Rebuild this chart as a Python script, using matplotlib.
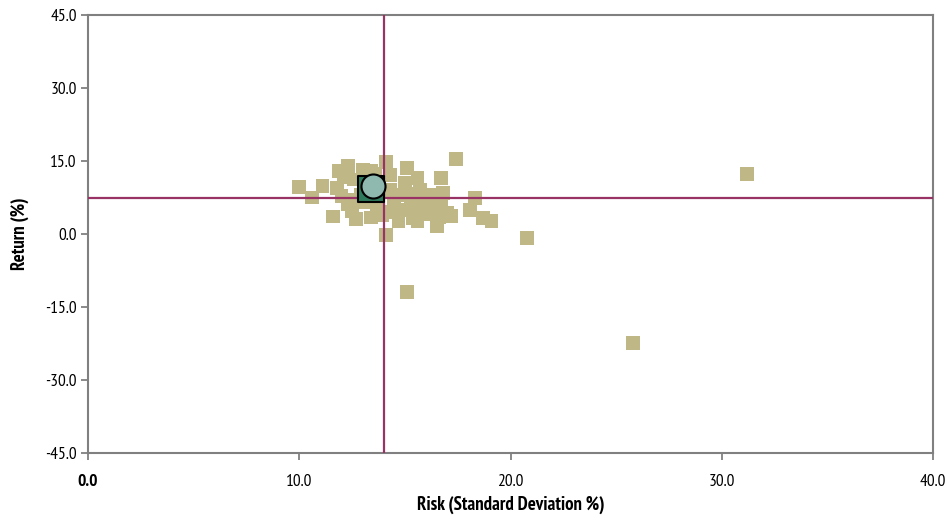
import matplotlib
matplotlib.use("Agg")
import matplotlib.pyplot as plt

# Risk / return of the peer universe (standard deviation %, return %)
peer_risk = [
    10.0, 10.6, 11.1, 11.6, 11.9, 12.3, 11.8, 12.0, 12.3, 12.5, 12.7, 12.6, 13.0, 13.4,
    13.1, 13.4, 13.7, 13.6, 12.1, 12.9, 12.6, 13.9,
    14.1, 14.3, 14.1, 14.3, 14.5, 14.4, 14.7, 15.1, 15.0, 15.2, 15.0, 15.4, 15.6, 15.7,
    15.8, 15.6, 16.0, 16.2, 16.4, 16.5, 16.7, 16.8, 16.7, 17.0, 17.2, 17.4,
    14.8, 15.3, 15.5, 15.9, 16.3, 16.6,
    18.3, 18.1, 18.7, 19.1, 20.8, 15.1, 25.8, 31.2,
]
peer_return = [
    9.7, 7.5, 9.8, 3.6, 12.9, 14.0, 9.5, 7.8, 6.2, 4.8, 3.0, 11.2, 13.2, 13.0,
    6.5, 3.4, 5.0, 12.4, 11.8, 8.0, 7.0, 3.8,
    14.8, 12.2, -0.2, 9.0, 6.8, 4.5, 2.6, 13.5, 10.5, 8.2, 5.0, 3.3, 11.5, 9.0,
    6.2, 2.7, 4.0, 8.0, 5.5, 1.6, 11.5, 8.4, 6.8, 4.3, 3.7, 15.5,
    8.0, 6.5, 4.5, 7.6, 6.3, 3.5,
    7.4, 4.9, 3.3, 2.7, -0.8, -11.9, -22.4, 12.3,
]

# Highlighted fund and benchmark
fund_risk, fund_return = 13.4, 9.3
bench_risk, bench_return = 13.5, 9.8

# Peer medians (quadrant lines)
median_risk, median_return = 14.0, 7.3

x_ticks = [0.0, 10.0, 20.0, 30.0, 40.0]
y_ticks = [-45.0, -30.0, -15.0, 0.0, 15.0, 30.0, 45.0]

plt.rcParams["font.family"] = ["PT Sans Narrow", "Fira Sans Condensed", "DejaVu Sans"]

fig = plt.figure(figsize=(9.47, 5.23), dpi=100)
ax = fig.add_axes([88 / 947, 1 - 453 / 523, (933 - 88) / 947, (453 - 15) / 523])

ax.scatter(peer_risk, peer_return, marker="s", s=100, color="#BFB886",
           edgecolors="none", zorder=2)
ax.axvline(median_risk, color="#993366", lw=1.6, zorder=3)
ax.axhline(median_return, color="#993366", lw=1.6, zorder=3)
ax.scatter([fund_risk], [fund_return], marker="s", s=360, color="#2E7A5C",
           edgecolors="black", linewidths=1.5, zorder=4)
ax.scatter([bench_risk], [bench_return], marker="o", s=300, color="#8FB9AE",
           edgecolors="black", linewidths=1.5, zorder=5)

ax.set_xlim(0, 40)
ax.set_ylim(-45, 45)
ax.set_xticks(x_ticks)
ax.set_yticks(y_ticks)
ax.set_xticklabels([f"{v:.1f}" for v in x_ticks], fontsize=12.5)
ax.set_yticklabels([f"{v:.1f}" for v in y_ticks], fontsize=12.5)
ax.get_xticklabels()[0].set_fontweight("bold")

for s in ax.spines.values():
    s.set_color("#808080")
    s.set_linewidth(1.5)
ax.tick_params(axis="both", direction="out", length=5, width=1.3,
               color="#808080", labelcolor="black")
ax.tick_params(axis="x", pad=10)
ax.tick_params(axis="y", pad=3)

ax.set_xlabel("Risk (Standard Deviation %)", fontsize=13.5, fontweight="bold", labelpad=4)
ax.set_ylabel("Return (%)", fontsize=13.5, fontweight="bold", labelpad=12)

fig.savefig("out.png", dpi=100)
